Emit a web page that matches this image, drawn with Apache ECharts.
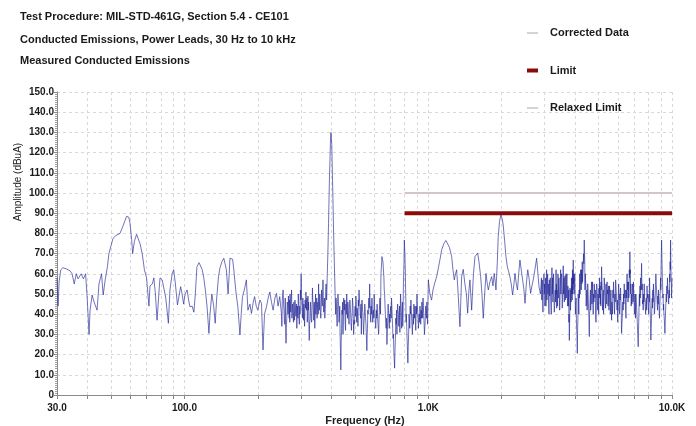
<!DOCTYPE html>
<html><head><meta charset="utf-8">
<script src="https://cdn.jsdelivr.net/npm/echarts@6/dist/echarts.min.js"></script>
<style>html,body{margin:0;padding:0;background:#fff}#c{width:696px;height:426px}</style>
</head><body><div id="c"></div>
<script>
// ---- data (frequency Hz, amplitude dBuA) ----
var titleLines = ['Test Procedure: MIL-STD-461G, Section 5.4 - CE101', 'Conducted Emissions, Power Leads, 30 Hz to 10 kHz', 'Measured Conducted Emissions'];
var seriesNames = ['Corrected Data', 'Limit', 'Relaxed Limit'];
var xTickValues = [30,40,50,60,70,80,90,100,200,300,400,500,600,700,800,900,1000,2000,3000,4000,5000,6000,7000,8000,9000,10000];
var xLabelValues = [30,100,1000,10000];
var limitData = [[800,90],[10000,90]];
var relaxedLimitData = [[800,100],[10000,100]];
var correctedLow = [[30,58],[30.3,44],[30.6,56],[31.1,62],[31.7,63],[32.7,62.5],[33.9,61.5],[34.6,60],[35.3,55],[36.0,60],[36.6,57.5],[37.7,60],[38.5,57.5],[39.3,60],[39.9,48],[40.6,30],[41.0,42],[41.8,49.5],[42.6,46],[43.8,42],[44.6,55],[45.7,60],[46.4,49.5],[47.3,57],[48.3,63.5],[49.0,70],[50.0,74],[50.9,77.5],[52.4,79],[54.4,80],[56.1,84],[57.9,88.5],[59.1,88],[59.8,85],[60.7,77],[61.3,70],[62.3,76],[63.6,79.5],[64.4,79],[65.7,75],[67.1,70],[68.5,62],[69.9,58],[71.5,44],[72.2,54],[73.8,55],[74.9,58],[76,50],[77.2,37],[78.8,53],[79.4,58],[81,57],[82.6,52],[83.8,48],[85.9,35.5],[87.2,52],[89,60],[90.3,62],[91.6,56],[93.6,44.6],[95.3,50],[96.5,53.6],[97.8,50],[99.2,45],[100.6,50],[102.6,52],[104,47],[105.3,43.7],[107.5,44],[109.3,41],[110.8,50],[112.5,63.5],[114.8,65.5],[115.8,66],[118.3,62],[120,58],[121.8,52],[123.8,43.7],[126,30.5],[127.3,40],[129.5,50],[131.8,44],[133.7,35.5],[135.6,48],[137.9,58.6],[139.9,63],[142.5,66],[145,67.7],[148.6,62],[151,50],[152.6,60],[153.7,67.7],[157.6,67.2],[159.4,62],[160.8,57],[163,50],[165.6,43.7],[168.9,29.7],[170.9,40],[173,48.7],[176,52],[179.5,57],[182.1,42],[185.6,45],[188.3,40.4],[191.5,46],[194,48.7],[197,44],[199.9,42],[204,47],[207,45.4],[210,22.3],[213,40],[217,43.7],[220.5,48],[224,51],[227.5,46],[231,42],[235,48],[238.5,50.3],[242,44],[246,48.7]];
var correctedMid = [[250,40],[251,34],[252,47],[253,50],[254,52],[255,45],[256,42],[257,36],[258,35],[259,48],[259.5,44],[260,33],[261,25.6],[262,35],[263,38],[264,46],[265,45],[266,40],[267,49],[268,42],[269,38],[269.5,47],[270,44],[270.5,36],[271,50],[272,45],[273,41],[274,48],[275,52],[276,38],[277.5,45],[279,40],[280,36],[281,46],[282,42],[283,37],[284,47],[285,44],[286.5,39],[288,45],[289,33],[290,40],[291,44],[292,38],[293,50],[294,46],[295,38],[296,35],[297,44],[298,40],[299,52],[300,47],[301,60],[302,50],[303.5,44],[305,38],[306,48],[307,43],[308,37],[309,45],[310,40],[311,34],[312.5,47],[314,43],[315,51],[316,45],[317,42],[318,48],[319,36],[320,40],[321,49],[322,42],[323,46],[323.5,40],[324,35],[324.5,31],[325,27],[326,35],[327.5,38],[329,46],[330,43],[331,38],[332.5,36],[334,44],[335,53],[336,47],[337.5,45],[339,37],[340,40],[341,46],[342.5,33],[344,42],[345,50],[346,40],[347.5,44],[349,48],[350,38],[351,43],[352.5,46],[354,40],[355,55],[356,47],[357.5,42],[359,50],[360,46],[361,41],[362.5,38],[364,45],[365,52],[366,48],[367.5,44],[369,50],[370,57],[371,48],[372.5,41],[374,45],[375,48],[376.5,38],[378,43],[379.5,50],[381,55],[382,50],[383,47],[384,52],[385,58],[387.5,70],[390,85],[393,105],[397,125],[399,130],[402,124],[406,100],[410,75],[414,55],[415.5,47],[417,40],[418.5,48],[420,45],[421.5,38],[423,34],[424.5,42],[426,50],[427.5,47],[429,44],[430.5,36],[432,38],[433.5,44],[435,30],[436.5,22],[438,12.4],[439.5,26],[441,33],[442.5,42],[444,40],[445.5,46],[447,30],[448.5,38],[450,48],[451.5,44],[453,42],[454.5,47],[456,36],[458,32],[459.5,45],[461,40],[463,50],[465,44],[466.5,38],[468,46],[470,42],[472,37],[473.5,35],[475,43],[477,47],[479,44],[480.5,40],[482,36],[484,32],[486,38],[487.5,41],[489,48],[491,45],[493,38],[494.5,30],[496,37],[498,35],[500,42],[501.5,44],[503,39],[505,49],[507,44],[509,36],[511,43],[513,40],[515,34],[516.5,47],[518,44],[520,52],[522,48],[524,44],[526,40],[528,38],[530,45],[531.5,30],[533,40],[535,47],[537,43],[539,41],[541,35],[543,30],[545,36],[547,39],[549,45],[551,43],[553,38],[555.5,35],[558,28],[560,22],[562,30],[563.5,33],[565,42],[567,40],[569,45],[571,48],[573,43],[575,55],[577,47],[579,40],[581,36],[583,44],[585,40],[587.5,48],[590,42],[592,36],[594,40],[596,42],[598,38],[600,50],[602,45],[604.5,40],[607,36],[609,33],[611,38],[613,42],[615,38],[617,45],[619,41],[621.5,36],[624,33],[626,30],[628,36],[630,41],[632,45],[634,48],[635.5,43],[637,40],[638.5,50],[640,60],[643,64],[646,68.5],[649,67],[652,66],[655,62],[658,58],[660,52],[662.5,50],[665,44],[667,40],[669.5,36],[672,33],[674.5,38],[677,25],[679.5,32],[682,37],[684.5,45],[687,42],[689.5,38],[692,33],[694.5,40],[697,36],[699.5,42],[702,44],[704.5,38],[707,48],[709.5,43],[712,38],[714.5,33],[717,28],[720,30],[722.5,22],[725,18],[728,13.3],[730.5,22],[733.5,28],[736,38],[739,35],[741.5,42],[744,30],[746.5,40],[749,45],[751.5,42],[754.5,40],[757,34],[760,38],[762.5,44],[765,31],[767.5,40],[770,50],[773,44],[775.5,37],[778,33],[781,42],[783.5,46],[786,34],[788.5,40],[791,55],[795,65],[798,76.7],[802,70],[806,60],[808,50],[809.5,46],[811,36],[813,40],[816,34],[819,28],[822,22],[825,15.8],[828,24],[831,30],[834,40],[837,38],[840,33],[843,44],[846,40],[849,47],[852,43],[855,38],[858,34],[861,30],[864,36],[867,40],[870,35],[873,45],[876,42],[879.5,38],[883,44],[886,36],[889,32],[892.5,44],[896,40],[899,50],[902,45],[905.5,41],[909,37],[912,33],[915,38],[918.5,40],[922,36],[925,44],[928,40],[931.5,35],[935,42],[938,38],[941.5,46],[945,43],[948.5,38],[952,48],[955,44],[958.5,40],[962,35],[965,30],[969,34],[972.5,37],[976,44],[980,42],[983.5,38],[987,46],[990.5,40],[994,35],[997,45],[1001,57]];
var correctedHigh1 = [[1016,50],[1032,47],[1046,52],[1061,55],[1083,58.6],[1101,63],[1117,67],[1135,71.8],[1160,75],[1182,76.5],[1201,76.4],[1222,73],[1248,68.5],[1263,62],[1279,57],[1294,60],[1308,62],[1324,52],[1349,33.8],[1371,58.6],[1392,62.2],[1414,55],[1434,50],[1451,40.5],[1469,52],[1483,57],[1507,42],[1533,60],[1555,68.5],[1595,70.3],[1615,66],[1641,58.6],[1661,50],[1682,38],[1704,50],[1726,60.2],[1747,55],[1764,52],[1791,56],[1820,58.6],[1843,54],[1865,60.2],[1883,56],[1896,52],[1919,65],[1937,78.4],[1961,86],[1988,89.4],[2013,87],[2031,84],[2059,76],[2084,68.5],[2111,63.5],[2138,61],[2163,58.6],[2190,55],[2219,49.5],[2247,55],[2269,60.2],[2298,55],[2324,52],[2350,60],[2378,66.8],[2407,62],[2440,57],[2470,52],[2495,45.4],[2526,55],[2560,62],[2591,58],[2630,50.3],[2663,54],[2696,57],[2739,62],[2784,67.7],[2819,60],[2847,53.6],[2886,50]];
var correctedHigh2 = [[2913,58],[2921,47],[2930,52],[2938,57],[2947,46],[2956,41],[2965,53],[2974,56],[2984,60],[2993,50],[3002,55],[3011,44],[3021,52],[3030,58],[3040,44],[3050,49],[3060,62],[3070,47],[3080,56],[3090,60],[3099,50],[3109,55],[3119,44],[3129,40],[3139,57],[3148,49],[3158,53],[3168,58],[3178,48],[3187,44],[3197,40],[3207,52],[3217,63],[3227,50],[3237,58],[3247,46],[3257,55],[3268,60],[3279,50],[3290,41],[3301,45],[3311,49],[3321,52],[3331,46],[3341,58],[3346,62],[3352,50],[3358,55],[3364,43],[3374,52],[3385,49],[3395,44],[3406,60],[3417,48],[3428,56],[3439,58],[3450,52],[3460,42],[3471,47],[3481,54],[3492,62],[3502,50],[3513,58],[3524,60],[3535,54],[3546,43],[3557,48],[3568,53],[3579,64],[3591,50],[3603,58],[3615,46],[3627,55],[3638,59],[3650,47],[3661,52],[3672,60],[3683,48],[3695,56],[3707,60],[3719,50],[3730,44],[3740,54],[3750,50],[3761,44],[3768,52],[3776,36],[3783,40],[3791,27],[3799,33],[3808,40],[3816,53],[3824,48],[3835,42],[3846,52],[3857,46],[3868,58],[3877,50],[3886,54],[3895,47],[3905,62],[3912,50],[3920,58],[3927,52],[3934,66.8],[3945,55],[3957,60],[3968,50],[3980,56],[3992,60],[4004,50],[4015,40],[4027,45],[4042,48],[4058,34],[4073,30],[4088,20.6],[4100,32],[4112,38],[4123,50],[4135,46],[4147,40],[4159,52],[4171,48],[4183,60],[4195,50],[4206,54],[4218,62],[4230,58],[4243,52],[4256,62],[4270,55],[4283,66],[4296,56],[4308,60],[4321,62],[4334,70],[4350,65],[4366,76.7],[4377,70],[4387,66],[4397,52],[4408,60],[4420,57],[4433,54],[4446,44],[4459,48],[4472,52],[4485,42],[4498,46],[4511,55],[4528,50],[4545,44],[4562,38],[4579,28.9],[4591,40],[4603,42],[4615,48],[4627,52],[4640,42],[4653,46],[4666,52],[4680,56],[4694,45],[4709,50],[4723,56],[4738,44],[4752,40],[4767,50],[4782,46],[4797,55],[4813,52],[4829,48],[4845,52],[4861,40],[4877,36],[4894,46],[4910,55],[4927,52],[4942,47],[4958,42],[4973,50],[4989,47],[5003,40],[5017,53],[5031,48],[5046,58],[5058,50],[5070,54],[5082,45],[5094,50],[5106,44],[5118,56],[5130,52],[5143,63.5],[5159,56],[5175,52],[5191,42],[5207,46],[5223,52],[5240,40],[5256,48],[5272,58],[5290,54],[5307,50],[5325,46],[5342,43],[5360,55],[5378,50],[5396,45],[5415,56],[5432,50],[5449,52],[5466,44],[5483,48],[5498,54],[5514,42],[5530,47],[5545,54],[5558,50],[5572,49],[5585,40],[5599,44],[5612,52],[5625,48],[5638,43],[5652,37],[5670,46],[5687,44],[5705,40],[5722,52],[5740,48],[5758,56],[5776,50],[5794,45],[5813,40],[5832,50],[5851,46],[5871,57],[5891,54],[5911,50],[5931,46],[5951,42],[5970,47],[5988,36],[6006,44],[6025,50],[6042,55],[6059,46],[6076,42],[6094,40],[6108,50],[6123,47],[6137,52],[6152,53],[6166,48],[6181,44],[6196,38],[6211,30.5],[6230,35],[6250,38],[6269,44],[6288,46],[6307,42],[6327,50],[6347,45],[6367,55],[6388,50],[6410,48],[6431,52],[6452,42],[6474,38],[6496,52],[6518,48],[6540,60],[6560,52],[6580,56],[6600,46],[6621,52],[6635,56],[6650,48],[6665,52],[6680,62],[6699,58],[6718,70.9],[6734,60],[6750,62],[6766,50],[6782,55],[6803,44],[6825,50],[6846,45],[6867,48],[6887,55],[6907,52],[6927,46],[6948,56],[6968,50],[6989,48],[7009,40],[7030,42],[7050,50],[7070,46],[7090,38],[7110,50],[7133,46],[7156,44],[7180,40],[7203,36],[7235,30],[7268,23.9],[7289,32],[7310,38],[7330,45],[7350,50],[7370,44],[7391,54],[7411,48],[7432,58],[7450,54],[7468,52],[7485,58],[7503,65.2],[7526,52],[7550,55],[7573,45],[7596,47],[7619,42],[7643,50],[7667,46],[7691,55],[7716,48],[7742,47],[7768,44],[7794,40],[7820,45],[7847,48],[7873,42],[7900,54],[7924,48],[7949,50],[7973,46],[7998,44],[8021,40],[8044,50],[8067,46],[8090,58],[8115,50],[8140,42],[8165,35],[8191,27.2],[8216,33],[8242,38],[8268,44],[8294,48],[8318,43],[8343,52],[8367,46],[8392,55],[8416,50],[8441,48],[8466,40],[8491,42],[8515,46],[8540,50],[8564,56],[8588,60],[8616,55],[8644,52],[8672,48],[8700,45],[8725,42],[8750,49],[8775,45],[8800,52],[8822,48],[8845,44],[8867,40],[8890,38],[8911,44],[8933,48],[8955,52],[8977,58],[9000,52],[9020,64],[9040,70],[9063,76.7],[9085,70],[9106,64],[9128,58],[9150,55],[9172,48],[9195,50],[9217,42],[9240,45],[9268,40],[9297,38],[9325,34],[9354,30.5],[9383,36],[9413,42],[9443,46],[9473,50],[9500,46],[9527,54],[9554,50],[9581,58],[9608,54],[9635,50],[9662,48],[9690,45],[9713,50],[9736,52],[9760,48],[9783,60],[9804,56],[9825,66],[9846,62],[9866,76.7],[9885,68],[9904,62],[9922,58],[9941,55],[9955,48],[9970,50],[9985,54],[10000,58]];
var correctedData = correctedLow.concat(correctedMid, correctedHigh1, correctedHigh2);

var FONT = 'Liberation Sans, Arial, sans-serif';
var thinIcon = 'path://M0,0 M0,6.5 L11,6.5 L11,7.5 L0,7.5 Z M11,14';
var thickIcon = 'path://M0,0 M0,5 L11,5 L11,9 L0,9 Z M11,14';
var chart = echarts.init(document.getElementById('c'), null, {renderer: 'canvas'});
var dash = {color: '#d9d9d9', type: [3, 3], width: 1};
chart.setOption({
  animation: false,
  backgroundColor: '#fff',
  grid: {left: 57, right: 24, top: 92, bottom: 31, containLabel: false},
  graphic: [
    {type: 'text', left: 20, top: 11, style: {text: titleLines[0], font: 'bold 11px ' + FONT, fill: '#1a1a1a'}},
    {type: 'text', left: 20, top: 34, style: {text: titleLines[1], font: 'bold 11px ' + FONT, fill: '#1a1a1a'}},
    {type: 'text', left: 20, top: 55, style: {text: titleLines[2], font: 'bold 11px ' + FONT, fill: '#1a1a1a'}},
    {type: 'text', x: 18, y: 182, rotation: Math.PI / 2, style: {text: 'Amplitude (dBuA)', font: '10px ' + FONT, fill: '#222', align: 'center', verticalAlign: 'middle'}},
    {type: 'text', x: 365, y: 421, style: {text: 'Frequency (Hz)', font: 'bold 11px ' + FONT, fill: '#222', align: 'center', verticalAlign: 'middle'}}
  ],
  legend: {
    orient: 'vertical', left: 522, top: 21, itemWidth: 11, itemHeight: 14, itemGap: 23.5,
    textStyle: {fontFamily: FONT, fontWeight: 'bold', fontSize: 11, color: '#1a1a1a', padding: [0, 0, 0, 7]},
    data: [
      {name: seriesNames[0], icon: thinIcon, itemStyle: {color: '#a8a8a8'}},
      {name: seriesNames[1], icon: thickIcon, itemStyle: {color: '#8b0a0a'}},
      {name: seriesNames[2], icon: thinIcon, itemStyle: {color: '#a8a8a8'}}
    ]
  },
  xAxis: {
    type: 'log', logBase: 10, min: 30, max: 10000,
    axisLine: {lineStyle: {color: '#8a8a8a', width: 1}},
    axisTick: {show: true, length: 4, lineStyle: {color: '#8a8a8a'}, customValues: xTickValues},
    axisLabel: {customValues: xLabelValues, fontFamily: FONT, fontWeight: 'bold', fontSize: 10, color: '#1a1a1a', margin: 8,
      formatter: function (v) { return v >= 1000 ? (v / 1000).toFixed(1) + 'K' : Number(v).toFixed(1); }},
    splitLine: {show: true, lineStyle: dash},
    minorTick: {show: false}, minorSplitLine: {show: false}
  },
  yAxis: {
    type: 'value', min: 0, max: 150, interval: 10,
    axisLine: {show: true, lineStyle: {color: '#8a8a8a', width: 1}},
    axisTick: {show: true, length: 3, inside: false, lineStyle: {color: '#8a8a8a'}},
    minorTick: {show: true, splitNumber: 10, length: 2, lineStyle: {color: '#a0a0a0'}},
    axisLabel: {fontFamily: FONT, fontWeight: 'bold', fontSize: 10, color: '#1a1a1a', margin: 3,
      formatter: function (v) { return v === 0 ? '0' : v.toFixed(1); }},
    splitLine: {show: true, lineStyle: dash}
  },
  series: [
    {name: seriesNames[0], type: 'line', data: correctedData, showSymbol: false, symbol: 'none',
      lineStyle: {color: 'rgba(34,38,150,0.72)', width: 0.9}, itemStyle: {color: '#a8a8a8'}, z: 2},
    {name: seriesNames[2], type: 'line', data: relaxedLimitData, showSymbol: false, symbol: 'none',
      lineStyle: {color: '#d2c6c6', width: 2}, itemStyle: {color: '#a8a8a8'}, z: 3},
    {name: seriesNames[1], type: 'line', data: limitData, showSymbol: false, symbol: 'none',
      lineStyle: {color: '#8b0a0a', width: 4}, itemStyle: {color: '#8b0a0a'}, z: 4}
  ]
});
</script></body></html>
